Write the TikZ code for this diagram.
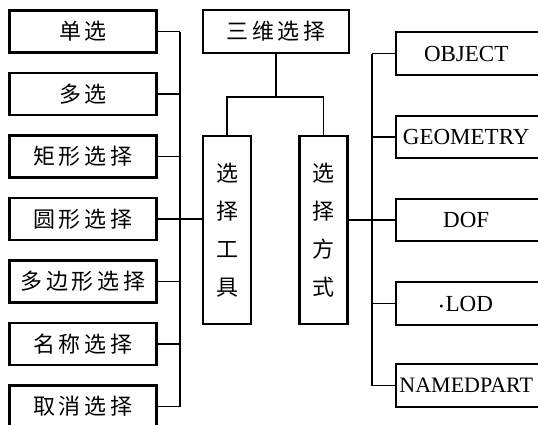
\documentclass[tikz,border=0pt]{standalone}
\usepackage{fontspec}
\setmainfont{Liberation Serif}
\newfontfamily\cjk[LetterSpace=18]{Noto Sans CJK SC}
\newfontfamily\cjkv{Noto Sans CJK SC}
\begin{document}
\begin{tikzpicture}[x=1pt,y=-1pt,
  boxline/.style={line width=2.2pt},
  conn/.style={line width=1.9pt},
  lbox/.style={draw,boxline,rectangle,minimum width=147pt,minimum height=42pt,inner sep=0pt,
    font=\cjk\fontsize{22}{22}\selectfont},
  vbox/.style={draw,boxline,rectangle,minimum width=48pt,minimum height=188pt,inner sep=0pt,
    align=center,font=\cjkv\fontsize{22}{38}\selectfont},
  rbox/.style={rectangle,anchor=west,text width=140pt,align=center,minimum height=42pt,inner xsep=0pt,inner ysep=0pt,
    font=\fontsize{23}{23}\selectfont}
]
\useasboundingbox (0,0) rectangle (538,424);
\clip (0,0) rectangle (538,424);
\fill[white] (0,0) rectangle (538,424);

% left column
\node[lbox] (l1) at (83,31.5) {单选};
\node[lbox] (l2) at (83,94) {多选};
\node[lbox] (l3) at (83,156.5) {矩形选择};
\node[lbox] (l4) at (83,219) {圆形选择};
\node[lbox] (l5) at (83,281.5) {多边形选择};
\node[lbox] (l6) at (83,344) {名称选择};
\node[lbox] (l7) at (83,406.5) {取消选择};

% middle
\node[draw,boxline,rectangle,minimum width=146pt,minimum height=43pt,inner sep=0pt,
  font=\cjk\fontsize{22}{22}\selectfont] (top) at (276,31.5) {三维选择};
\node[vbox] (tool) at (227,230) {选\\择\\工\\具};
\node[vbox] (mode) at (323.5,230) {选\\择\\方\\式};

% right column
\node[rbox] (r1) at (396,53.5) {OBJECT};
\node[rbox] (r2) at (396,137) {GEOMETRY};
\node[rbox] (r3) at (396,220) {DOF};
\node[rbox] (r4) at (396,303.5) {{\fontsize{12}{12}\selectfont\raisebox{1pt}{•}}\hspace{2pt}LOD};
\node[rbox,font=\fontsize{22}{22}\selectfont] (r5) at (396,385.5) {NAMEDPART};
\foreach \i in {1,...,5}{
  \draw[boxline] (r\i.north west) rectangle ([xshift=40pt]r\i.south east);
}

% left bus
\coordinate (bl) at (180,0);
\foreach \i in {1,...,7}{
  \draw[conn] (l\i.east) -- (l\i.east -| bl);
}
\draw[conn] (l1.east -| bl) -- (l7.east -| bl);
\draw[conn] (l4.east -| bl) -- (l4.east -| tool.west);

% top tree
\draw[conn] (top.south) -- ++(0,43) coordinate (j);
\draw[conn] (tool.north) |- (j) -| (mode.north);

% right bus
\coordinate (br) at (372,0);
\foreach \i in {1,...,5}{
  \draw[conn] (r\i.west) -- (r\i.west -| br);
}
\draw[conn] (r1.west -| br) -- (r5.west -| br);
\draw[conn] (r3.west -| mode.east) -- (r3.west -| br);
\end{tikzpicture}
\end{document}
